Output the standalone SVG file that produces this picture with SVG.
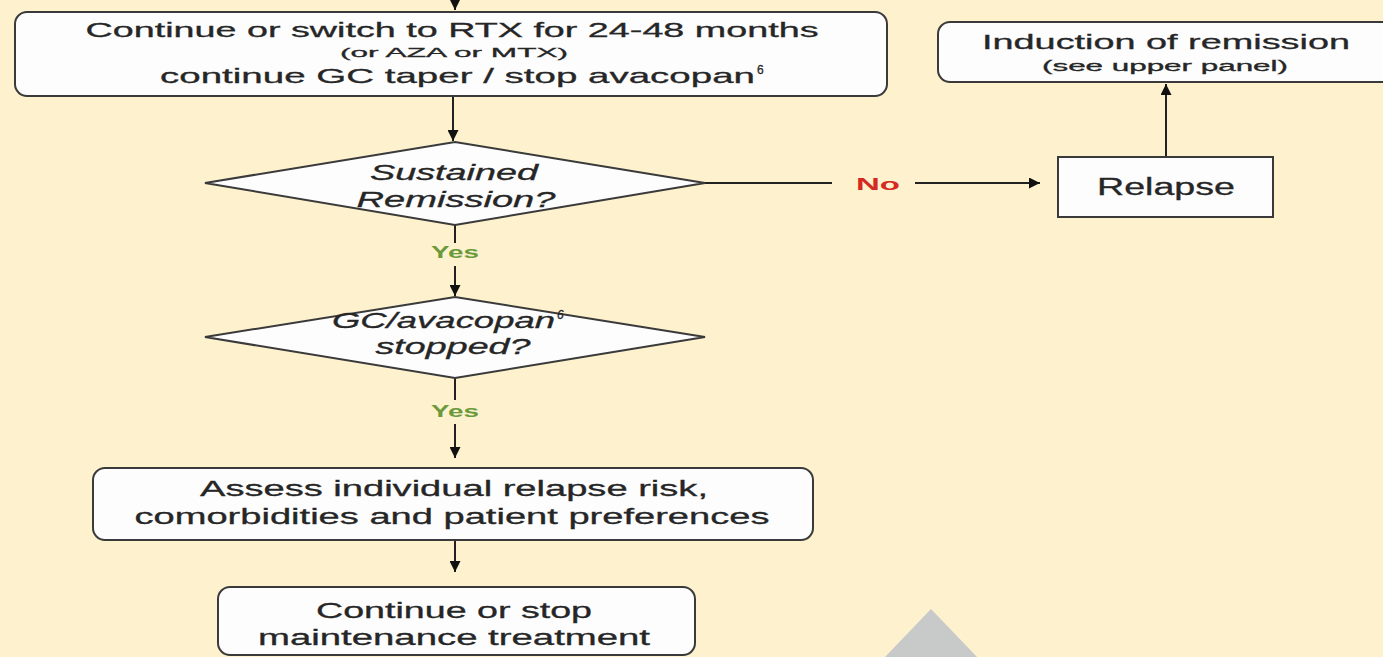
<svg xmlns="http://www.w3.org/2000/svg" width="1383" height="657" viewBox="0 0 1383 657">
<style>
.box{fill:#fdfdfe;stroke:#3a3a3a;stroke-width:2}
.t{font-family:"Liberation Sans",Arial,sans-serif;fill:#262626;stroke:#262626;stroke-width:0.3}
.i{font-style:italic}
.c{text-anchor:middle}
.ln{stroke:#222;stroke-width:2;fill:none}
.yes{font-family:"Liberation Sans",Arial,sans-serif;font-weight:bold;fill:#6b9a3c;font-size:17px;text-anchor:middle}
.no{font-family:"Liberation Sans",Arial,sans-serif;font-weight:bold;fill:#d42a22;font-size:17px;text-anchor:middle}
</style>
<defs>
<marker id="ah" viewBox="0 0 10 10" refX="10" refY="5" markerWidth="5.5" markerHeight="5.5" orient="auto" markerUnits="strokeWidth">
<path d="M0,0 L10,5 L0,10 z" fill="#111"/>
</marker>
</defs>
<rect width="1383" height="657" fill="#fef1cd"/>
<polygon points="931,609 885,657 977,657" fill="#c7cac8"/>

<g id="connectors">
<line class="ln" x1="455" y1="-2" x2="455" y2="10" marker-end="url(#ah)"/>
<line class="ln" x1="453" y1="96" x2="453" y2="141" marker-end="url(#ah)"/>
<line class="ln" x1="705" y1="183" x2="832" y2="183" stroke-width="1.5"/>
<line class="ln" x1="915" y1="183" x2="1040" y2="183" stroke-width="1.5" marker-end="url(#ah)"/>
<line class="ln" x1="1166" y1="157" x2="1166" y2="84" stroke-width="1.5" marker-end="url(#ah)"/>
<line class="ln" x1="455" y1="225" x2="455" y2="243"/>
<line class="ln" x1="455" y1="266" x2="455" y2="296" marker-end="url(#ah)"/>
<line class="ln" x1="455" y1="378" x2="455" y2="400"/>
<line class="ln" x1="455" y1="424" x2="455" y2="458" stroke-width="1.5" marker-end="url(#ah)"/>
<line class="ln" x1="455" y1="541" x2="455" y2="572" stroke-width="1.5" marker-end="url(#ah)"/>
<text class="no" x="878" y="190" textLength="44" lengthAdjust="spacingAndGlyphs">No</text>
<text class="yes" x="455" y="258" textLength="48" lengthAdjust="spacingAndGlyphs">Yes</text>
<text class="yes" x="455" y="417" textLength="48" lengthAdjust="spacingAndGlyphs">Yes</text>
</g>

<g id="node-continue-rtx">
<rect class="box" x="15" y="12" width="872" height="84" rx="12"/>
<text class="t c" x="452" y="37" font-size="21" textLength="733" lengthAdjust="spacingAndGlyphs">Continue or switch to RTX for 24-48 months</text>
<text class="t c" x="454" y="57" font-size="13.5" textLength="228" lengthAdjust="spacingAndGlyphs">(or AZA or MTX)</text>
<text class="t" x="160" y="83" font-size="21" textLength="595" lengthAdjust="spacingAndGlyphs">continue GC taper / stop avacopan</text>
<text class="t" x="757" y="74" font-size="12">6</text>
</g>

<g id="node-induction">
<rect class="box" x="938" y="22" width="460" height="60" rx="12"/>
<text class="t c" x="1166" y="49" font-size="21" textLength="368" lengthAdjust="spacingAndGlyphs">Induction of remission</text>
<text class="t c" x="1165" y="71" font-size="14" textLength="246" lengthAdjust="spacingAndGlyphs">(see upper panel)</text>
</g>

<g id="node-relapse">
<rect class="box" x="1058" y="157" width="215" height="60"/>
<text class="t c" x="1166" y="195" font-size="23" textLength="138" lengthAdjust="spacingAndGlyphs">Relapse</text>
</g>

<g id="node-sustained">
<polygon class="box" points="205,183 455,142 705,183 455,225"/>
<text class="t c i" x="454" y="180" font-size="22" textLength="168" lengthAdjust="spacingAndGlyphs">Sustained</text>
<text class="t c i" x="456" y="207" font-size="22" textLength="199" lengthAdjust="spacingAndGlyphs">Remission?</text>
</g>

<g id="node-gc-stopped">
<polygon class="box" points="205,337 455,297 705,337 455,378"/>
<text class="t i" x="332" y="328" font-size="22" textLength="223" lengthAdjust="spacingAndGlyphs">GC/avacopan</text>
<text class="t i" x="557" y="319" font-size="12">6</text>
<text class="t c i" x="453" y="354" font-size="22" textLength="155" lengthAdjust="spacingAndGlyphs">stopped?</text>
</g>

<g id="node-assess">
<rect class="box" x="93" y="468" width="720" height="72" rx="12"/>
<text class="t c" x="454" y="496" font-size="22" textLength="508" lengthAdjust="spacingAndGlyphs">Assess individual relapse risk,</text>
<text class="t c" x="452" y="524" font-size="22" textLength="635" lengthAdjust="spacingAndGlyphs">comorbidities and patient preferences</text>
</g>

<g id="node-continue-stop">
<rect class="box" x="218" y="587" width="477" height="68" rx="12"/>
<text class="t c" x="454" y="618" font-size="22" textLength="276" lengthAdjust="spacingAndGlyphs">Continue or stop</text>
<text class="t c" x="454" y="645" font-size="22" textLength="392" lengthAdjust="spacingAndGlyphs">maintenance treatment</text>
</g>
</svg>
